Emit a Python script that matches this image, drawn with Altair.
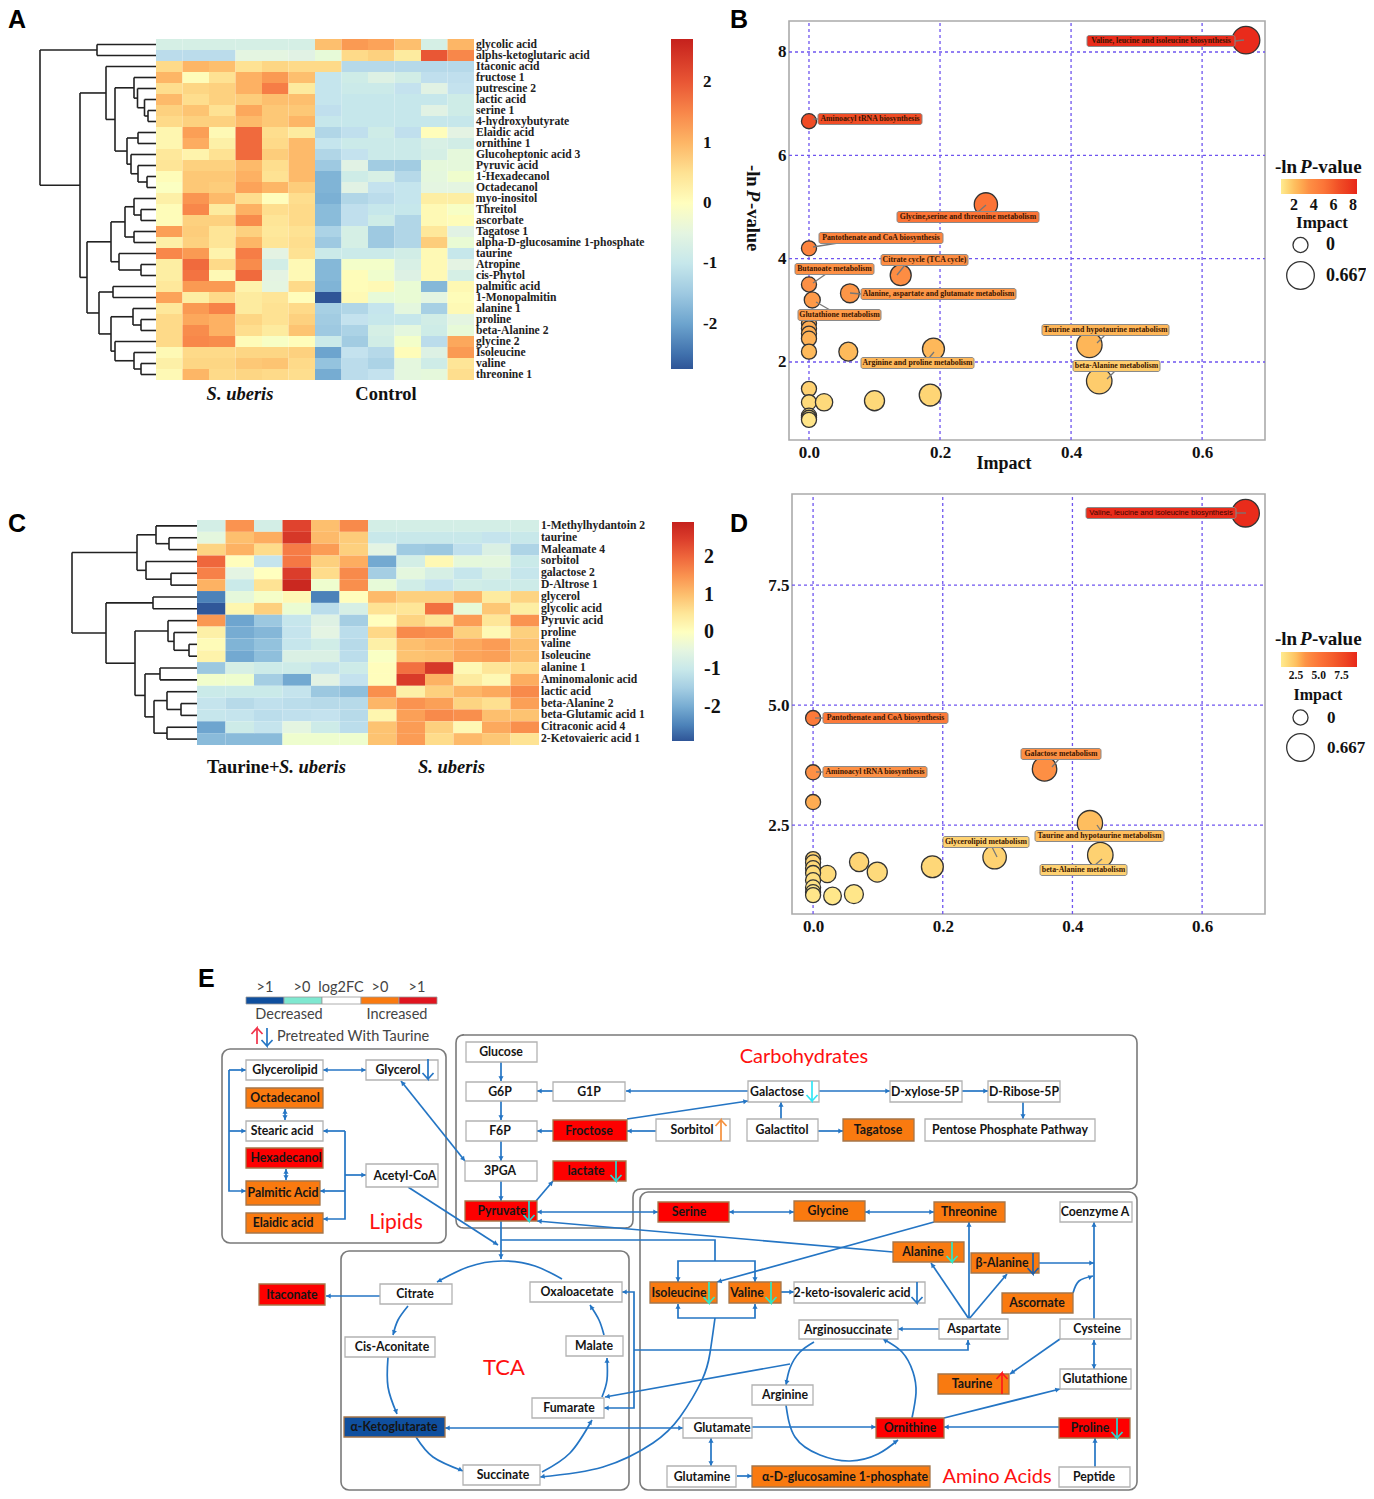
import math
import altair as alt
import pandas as pd

# ---------- Panel A heat map ----------
A_LABELS = ["glycolic acid","alphs-ketoglutaric acid","Itaconic acid","fructose 1","putrescine 2","lactic acid","serine 1","4-hydroxybutyrate","Elaidic acid","ornithine 1","Glucoheptonic acid 3","Pyruvic acid","1-Hexadecanol","Octadecanol","myo-inositol","Threitol","ascorbate","Tagatose 1","alpha-D-glucosamine 1-phosphate","taurine","Atropine","cis-Phytol","palmitic acid","1-Monopalmitin","alanine 1","proline","beta-Alanine 2","glycine 2","Isoleucine","valine","threonine 1"]
A_VALUES = [
[-.75,-.75,-.75,-.75,-.75,-.75,.9,1.3,1.2,.9,-.75,1],
[-1.2,-1.2,-1.2,-.5,-.5,-.6,-.35,.6,.7,.35,2,1.5],
[.6,1,.9,.5,.65,.6,.6,-1.25,-1.25,-1.25,-1.25,-1.25],
[1,.05,.5,1.05,1.3,.9,-1.05,-.85,-.65,-.8,-1.15,-1.15],
[.55,.65,.7,1.05,1.6,.35,-1.05,-.9,-.9,-1.1,-.6,-1.1],
[.95,.55,.7,.75,.9,.9,-1.05,-1,-1,-1,-1,-.85],
[.7,.85,.5,1.15,.8,.8,-1.15,-1,-1,-1,-.6,-.85],
[.6,.7,.7,.95,.8,1,-1,-1,-1,-1,-1,-1],
[.15,1.25,.1,1.8,.55,.35,-1.3,-1.15,-.85,-1.15,.03,-.55],
[.15,1.1,.25,1.8,.6,.95,-1.05,-.9,-.9,-.9,-.7,-.8],
[.4,.2,.5,1.8,.75,.95,-1.3,-1.1,-.9,-.9,-.75,-.4],
[.45,.7,.7,.95,.55,.95,-1.5,-.6,-1.45,-1.45,-.4,-.4],
[.05,.8,.8,1.05,.5,.95,-1.8,-.85,-.7,-1.25,-.45,-.2],
[-.05,.8,.75,1.2,1,.75,-1.8,-.6,-1.1,-1.05,-.5,-.5],
[.25,1.35,.95,.55,.02,.55,-1.85,-1.3,-1.2,-1.05,.3,.3],
[.05,1.5,.35,1.05,.55,.6,-1.7,-1.15,-1,-1,.1,-.1],
[.05,.7,.7,1.45,.45,.6,-1.7,-1.15,-.85,-1.3,.1,.05],
[1.25,.75,.45,.7,.4,.5,-1.35,-.75,-1.5,-1.3,.4,-.6],
[.25,.7,.45,1,.45,.55,-1.5,-.75,-1.5,-1.3,.75,-.3],
[1.5,1.3,.2,1.6,-.55,.5,-.9,-.9,-.9,-.8,.1,-1],
[.3,1.8,.6,1.45,-.8,.1,-1.75,-.15,-.15,-.7,.1,-.55],
[.3,1.7,.1,1.8,-.55,.1,-1.75,.05,-.2,-.65,.1,-.75],
[.4,1.3,1.3,.2,-.5,.6,-1.8,.05,.1,-.3,-1.75,.12],
[1.2,.3,.6,.35,.45,.03,-2.75,.1,-.35,-.3,-.5,.05],
[.4,1.3,1.55,.35,.5,.6,-1.4,-1.3,-1.05,-.45,-1.4,.1],
[.6,1.15,1.05,.65,.5,.7,-1.45,-1.1,-1,-1,-.8,-.5],
[.6,1.45,1.05,.55,.35,.85,-1.5,-1.35,-.75,-.45,-.85,-.35],
[.6,1.5,1.45,.06,-.1,.03,-.9,-1.45,-.8,-.15,-1.2,1.15],
[.1,.6,.6,.65,.65,.7,-2,-1.1,-1.25,.05,-.65,1.3],
[.25,.65,.65,.8,.85,.6,-1.6,-1.2,-1.35,-.45,-.85,.45],
[.1,1,.6,.65,.6,.55,-1.9,-1.2,-1.1,-.45,-.4,.55]]
A_TREE = (40,(97,0,1),(80,
  (106,2,(115,(134,3,(137.5,4,(144.5,5,(148,6,7)))),(127,(138,8,9),(131,10,(138,11,(147,12,13)))))),
  (87,(111,(125,(134,14,(141,15,16)),(134,17,18)),(119,19,(141,20,21))),
      (99,(113,22,23),(111,(133,24,(141,25,26)),(115,27,(134,28,(141,29,30))))))))

# ---------- Panel C heat map ----------
C_LABELS = ["1-Methylhydantoin 2","taurine","Maleamate 4","sorbitol","galactose 2","D-Altrose 1","glycerol","glycolic acid","Pyruvic acid","proline","valine","Isoleucine","alanine 1","Aminomalonic acid","lactic acid","beta-Alanine 2","beta-Glutamic acid 1","Citraconic acid 4","2-Ketovaieric acid 1"]
C_VALUES = [
[-.8,1.5,-.8,2.4,1,1.6,-.8,-.8,-.8,-.8,-.8,-.8],
[-.45,1,1.2,2.6,1.05,.85,-1,-1,-1,-1,-1.1,-1],
[.75,1.15,.65,1.75,1.4,.8,-.55,-1.55,-1.6,-1.2,-.7,-1.4],
[2,.05,-1.1,1.8,.8,1.2,-2.05,-.8,.15,-.4,-.45,-.95],
[1.7,-.55,.02,2.5,.65,1.6,-1.5,-.45,-.75,-1.05,-.75,-1.05],
[1.15,-.95,.55,2.85,-.2,1.55,-.35,-.85,-1.1,-.85,-.9,-.9],
[-2.5,-.4,-.1,.15,-2.5,.05,1.05,.8,.8,1.1,.4,.75],
[-2.9,.2,.8,-.25,-1.25,-.75,.55,.5,1.9,-.35,.9,.35],
[1.45,-2.1,-1.6,-1.05,-.65,-1.5,.03,.75,.5,1.4,.5,1.5],
[.3,-2,-1.85,-1.1,-.55,-1.25,.7,1.6,1.55,.8,.15,.8],
[.1,-1.9,-1.7,-1.05,-.85,-1.3,.3,1,1.1,1.25,1.4,1],
[.25,-2.05,-1.75,-.7,-.7,-1.25,-.05,.95,1,1.3,1.35,1],
[-1.6,-.75,-.9,-.9,-1.1,-.9,.05,1.9,2.6,.15,.5,.65],
[-.15,-.2,-1.5,-2.05,-.6,-1.15,.05,2.55,1.15,.4,.15,1.2],
[-.95,-.95,-.95,-1.1,-1.6,-1.75,1.55,.3,.8,1.1,1.25,1.6],
[-1.1,-1.3,-1.2,-1.25,-1.3,-1.3,1.1,1.5,1.35,.75,.6,1.35],
[-1.05,-1.1,-1.25,-1.2,-1.15,-1.3,.2,1.35,1.6,1.55,1,.95],
[-2.1,-.9,-1.1,-.5,-.9,-1.25,.95,1.4,.8,.15,1.25,1.55],
[-1.8,-1.8,-1.8,-.2,-.2,-.2,.95,1.4,.65,1.05,.9,.55]]
C_TREE = (72,(137,(156,0,(169,1,2)),(146,3,(171,4,5))),
  (106,(153,6,7),(135,(168,8,(174,9,(189,10,11))),
     (145,(160,12,13),(154,(167,14,(181,15,16)),(167,17,18))))))

HEAT_STOPS = [-1,-.8,-.6,-.4,-.2,0,.2,.4,.6,.8,1]
HEAT_COLORS = ["#2f5597","#5a94c6","#8fbfdc","#c4e2ee","#e4f3e4","#ffffbf","#fee090","#fdae61","#f67a45","#e2452f","#c5211d"]

# ---------- Panel B bubbles: impact, -ln p, label ----------
B_IMPACT = [.667,0,.27,0,.14,0,.0625,.005,0,0,0,0,0,.06,.19,.428,.443,0,0,.023,.1,.185,0,0,0]
B_LNP = [8.23,6.66,5.05,4.2,3.68,3.5,3.33,3.2,2.75,2.65,2.55,2.45,2.2,2.2,2.25,2.33,1.63,1.48,1.22,1.22,1.25,1.36,.96,.92,.88]
D_IMPACT = [.667,0,0,0,.357,.427,.443,.28,.184,.099,.071,.022,.063,.03,0,0,0,0,0,0,0,0]
D_LNP = [9.0,4.73,3.6,2.98,3.67,2.54,1.875,1.83,1.63,1.52,1.73,1.48,1.06,1.02,1.79,1.72,1.6,1.5,1.35,1.2,1.1,1.04]

B_BADGES = [("Valine, leucine and isoleucine biosynthesis",1087,1235,41,8.23,1235,41,1244,40),
 ("Aminoacyl tRNA biosynthesis",818,922,119,6.66,818,119,813,119),
 ("Glycine,serine and threonine metabolism",897,1039,217,5.05,978,212,986,205),
 ("Pantothenate and CoA biosynthesis",819,943,238,4.2,838,243,813,247),
 ("Citrate cycle (TCA cycle)",881,968,260,3.68,905,265,897,275),
 ("Butanoate metabolism",795,874,269,3.5,826,274,813,283),
 ("Alanine, aspartate and glutamate metabolism",861,1016,294,3.33,861,294,850,293),
 ("Glutathione metabolism",798,881,315,3.2,830,310,816,302),
 ("Taurine and hypotaurine metabolism",1042,1169,330,2.33,1105,335,1097,343),
 ("Arginine and proline metabolism",861,974,363,2.25,929,358,934,352),
 ("beta-Alanine metabolism",1073,1160,366,1.63,1115,371,1107,379)]
D_BADGES = [("Pantothenate and CoA biosynthesis",823,948,718,4.73,823,718,815,718),
 ("Aminoacyl tRNA biosynthesis",823,927,772,3.6,823,772,816,772),
 ("Galactose metabolism",1021,1101,754,3.67,1059,759,1052,767),
 ("Glycerolipid metabolism",943,1029,842,1.83,992,847,997,857),
 ("Taurine and hypotaurine metabolism",1035,1164,836,2.54,1097,825,1101,831),
 ("beta-Alanine metabolism",1040,1127,870,1.875,1102,859,1095,865)]
D_TOP_BADGE = [("Valine, leucine and isoleucine biosynthesis",1086,1236,513,9.0,1236,513,1246,513)]

# ---------- Panel E: nodes: label, x0, x1, y0, y1, fill, text x ----------
ORANGE, RED, NAVY, WHITE = "#f97a10", "#fe0000", "#0f4f9e", "#ffffff"
E_NODES = [
("Glycerolipid",246,323,1060,1080,WHITE,285),("Glycerol",366,438,1060,1080,WHITE,398),
("Octadecanol",246,323,1088,1108,ORANGE,285),("Stearic acid",246,323,1121,1141,WHITE,282),
("Hexadecanol",246,323,1148,1168,RED,286),("Palmitic Acid",246,320,1181,1205,ORANGE,283),
("Elaidic acid",246,323,1213,1233,ORANGE,283),("Acetyl-CoA",366,438,1164,1187,WHITE,405),
("Glucose",466,537,1042,1062,WHITE,501),("G6P",466,537,1082,1101,WHITE,500),("G1P",553,625,1082,1101,WHITE,589),
("F6P",466,537,1121,1141,WHITE,500),("Froctose",553,627,1120,1141,RED,589),("3PGA",465,537,1161,1181,WHITE,500),
("lactate",553,626,1161,1181,RED,586),("Pyruvate",465,537,1201,1221,RED,502),
("Galactose",748,819,1081,1102,WHITE,777),("D-xylose-5P",890,962,1081,1102,WHITE,925),("D-Ribose-5P",988,1060,1081,1102,WHITE,1024),
("Sorbitol",656,730,1119,1141,WHITE,692),("Galactitol",747,818,1119,1141,WHITE,782),("Tagatose",843,914,1119,1141,ORANGE,878),
("Pentose Phosphate Pathway",925,1095,1119,1141,WHITE,1010),
("Serine",658,729,1202,1222,RED,689),("Glycine",794,865,1201,1221,ORANGE,828),("Threonine",934,1005,1202,1222,ORANGE,969),
("Coenzyme A",1060,1132,1202,1222,WHITE,1095),("Alanine",893,964,1242,1262,ORANGE,923),("β-Alanine",971,1039,1253,1273,ORANGE,1002),
("Isoleucine",650,717,1282,1303,ORANGE,679),("Valine",729,781,1282,1303,ORANGE,747),("2-keto-isovaleric acid",794,925,1282,1303,WHITE,852),
("Ascornate",1002,1073,1293,1313,ORANGE,1037),("Itaconate",259,325,1284,1305,RED,292),("Citrate",380,452,1284,1304,WHITE,415),
("Oxaloacetate",530,622,1282,1302,WHITE,577),("Cis-Aconitate",345,435,1337,1357,WHITE,392),("Malate",566,623,1336,1356,WHITE,594),
("Fumarate",532,604,1398,1418,WHITE,569),("α-Ketoglutarate",344,445,1417,1437,NAVY,394),("Succinate",463,540,1465,1485,WHITE,503),
("Arginosuccinate",799,898,1320,1339,WHITE,848),("Aspartate",939,1008,1319,1339,WHITE,974),("Cysteine",1060,1131,1319,1339,WHITE,1097),
("Taurine",938,1009,1374,1394,ORANGE,972),("Glutathione",1060,1131,1369,1389,WHITE,1095),("Arginine",752,813,1385,1405,WHITE,785),
("Glutamate",683,752,1418,1438,WHITE,722),("Ornithine",876,944,1418,1438,RED,910),("Proline",1059,1130,1418,1438,RED,1090),
("Glutamine",667,736,1466,1487,WHITE,702),("α-D-glucosamine 1-phosphate",752,930,1466,1487,ORANGE,845),("Peptide",1059,1130,1467,1487,WHITE,1094)]

# straight connections: points, arrow ends ("e" end, "s" start, "b" both, "" none)
E_LINES = [
([(323,1070),(366,1070)],"b"),([(229,1070),(246,1070)],"e"),([(229,1070),(229,1191),(246,1191)],"e"),([(229,1131),(246,1131)],"e"),
([(285,1109),(285,1120)],"b"),([(286,1169),(286,1180)],"b"),([(345,1131),(323,1131)],"e"),([(345,1131),(345,1219),(323,1219)],"e"),
([(345,1191),(320,1191)],"e"),([(345,1175),(366,1175)],"e"),([(401,1081),(465,1161)],"b"),([(408,1187),(498,1245)],"e"),
([(501,1062),(501,1081)],"e"),([(501,1101),(501,1120)],"e"),([(501,1141),(501,1161)],"e"),([(501,1181),(501,1201)],"e"),([(501,1221),(501,1259)],"e"),
([(553,1091),(537,1091)],"e"),([(748,1091),(626,1091)],"e"),([(553,1131),(537,1131)],"e"),([(656,1131),(627,1131)],"e"),([(627,1119),(748,1101)],"e"),
([(819,1091),(890,1091)],"e"),([(962,1091),(988,1091)],"e"),([(1023,1102),(1023,1119)],"e"),([(781,1119),(781,1102)],"e"),([(818,1131),(843,1131)],"e"),
([(536,1201),(553,1181)],"e"),([(537,1212),(658,1212)],"b"),([(729,1212),(794,1212)],"b"),([(865,1212),(934,1212)],"b"),
([(893,1252),(537,1221)],"e"),([(934,1222),(717,1282)],"e"),([(501,1240),(715,1240),(715,1261)],""),([(715,1261),(678,1261),(678,1282)],"e"),([(715,1261),(755,1261),(755,1282)],"e"),
([(715,1318),(678,1318),(678,1304)],"e"),([(715,1318),(755,1318),(755,1304)],"e"),([(781,1292),(794,1292)],"e"),
([(969,1319),(969,1222)],"e"),([(969,1319),(931,1263)],"e"),([(969,1319),(1007,1274)],"e"),([(939,1329),(898,1329)],"e"),
([(1039,1263),(1094,1263)],"e"),([(1094,1319),(1094,1222)],"e"),([(1060,1339),(1010,1374)],"e"),([(1094,1340),(1094,1369)],"b"),
([(634,1350),(968,1350),(968,1340)],"e"),([(634,1350),(634,1292),(622,1292)],"e"),([(634,1350),(634,1408),(604,1408)],"e"),
([(790,1364),(605,1397)],"e"),([(445,1428),(683,1428)],"b"),([(752,1427),(876,1427)],"e"),([(1059,1427),(944,1427)],"e"),
([(944,1418),(1060,1389)],"e"),([(711,1438),(711,1466)],"b"),([(737,1476),(752,1476)],"e"),([(1095,1467),(1095,1438)],"e"),([(380,1296),(326,1296)],"e")]
E_CURVES = [
[(715,1318),(710,1353),(702,1380),(680,1417),(653,1443),(603,1467),(540,1477)],
[(1073,1293),(1079,1281),(1093,1276)],
[(814,1342),(800,1352),(790,1368),(786,1385)],
[(786,1405),(795,1437),(820,1455),(850,1461),(878,1454),(898,1440)],
[(912,1418),(916,1393),(913,1372),(902,1352),(883,1339)],
[(562,1279),(535,1266),(502,1261),(468,1267),(437,1282)],
[(408,1306),(398,1320),(393,1335)],
[(388,1357),(388,1387),(397,1414)],
[(416,1437),(433,1457),(463,1471)],
[(542,1472),(570,1453),(592,1420)],
[(602,1397),(607,1380),(607,1358)],
[(604,1335),(599,1320),(590,1305)]]
# pretreatment arrows inside boxes: x, start y, end y, colour
E_MINI = [(428,1059,1079,"#2475c4"),(616,1161,1181,"#27d8d0"),(529,1201,1221,"#27d8d0"),(812,1081,1101,"#33e6f5"),(721,1141,1120,"#f5903c"),
 (952,1242,1262,"#2ce8c8"),(1033,1253,1274,"#2060a8"),(709,1282,1303,"#2ce8c8"),(771,1282,1303,"#2ce8c8"),(917,1282,1303,"#2475c4"),
 (1002,1394,1373,"#fe1a1a"),(1117,1418,1438,"#27d8d0"),(257,1044,1028,"#f0334a"),(267,1028,1046,"#2475c4")]
E_BAR = [(246,284,NAVY),(284,322,"#7fe8d0"),(322,361,"#ffffff"),(361,399,ORANGE),(399,437,"#e0151f")]
E_BAR_TEXT = [(">1",265,988),(">0",302,988),("log2FC",341,988),(">0",380,988),(">1",417,988),("Decreased",289,1015),("Increased",397,1015)]
E_BOXES = [(222,446,1049,1243),(640,1137,1192,1490),(341,629,1251,1490)]
E_CARB = [(456,1035),(1137,1035),(1137,1189),(633,1189),(633,1228),(456,1228)]
E_TITLES = [("Lipids",396,1223,21),("Carbohydrates",804,1057,20),("TCA",504,1368,22),("Amino Acids",997,1477,20)]
PANELS = [("A",8,20),("B",730,20),("C",8,524),("D",730,524),("E",198,979)]

# ---------- canvas ----------
W, H = 1358, 1483
BLUE = "#2475c4"
SERIF = "Liberation Serif"
CX = alt.Scale(domain=[8, 8 + W], range=[0, W], nice=False, zero=False)
CY = alt.Scale(domain=[8, 8 + H], range=[0, H], nice=False, zero=False)
def px(f): return alt.X(f + ":Q", scale=CX, axis=None)
def py(f): return alt.Y(f + ":Q", scale=CY, axis=None)
def df(rows, cols): return pd.DataFrame(rows, columns=cols)
layers = []

def texts(rows, size, font=SERIF, weight="bold", style="normal", color="#111", align="center", angle=0):
    ch = alt.Chart(df(rows, ["t", "x", "y"])).mark_text(font=font, fontSize=size, fontWeight=weight, fontStyle=style,
        color=color, align=align, baseline="middle", angle=angle)
    return ch.encode(x=px("x"), y=py("y"), text="t:N")

def tree_segments(node, xleaf, rowy):
    if isinstance(node, int):
        return xleaf, rowy(node), []
    x, a, b = node
    xa, ya, sa = tree_segments(a, xleaf, rowy)
    xb, yb, sb = tree_segments(b, xleaf, rowy)
    segs = sa + sb + [(x, ya, xa, ya), (x, yb, xb, yb), (x, ya, x, yb)]
    return x, (ya + yb) / 2, segs

def heat_panel(values, labels, tree, x0, x1, y0, y1, label_x, vmin, vmax, ticks, legend_x, legend_y, legend_len, lab_size):
    n = len(labels)
    rows = [(c, c + 1, r, r + 1, values[r][c]) for r in range(n) for c in range(12)]
    xs = alt.Scale(domain=[0, 12], range=[x0 - 8, x1 - 8], nice=False, zero=False)
    ys = alt.Scale(domain=[0, n], range=[y0 - 8, y1 - 8], nice=False, zero=False)
    mid = (vmin + vmax) / 2
    half = (vmax - vmin) / 2
    cs = alt.Scale(domain=[mid + s * half for s in HEAT_STOPS], range=HEAT_COLORS)
    leg = alt.Legend(orient="none", legendX=legend_x - 8, legendY=legend_y - 8, title=None, values=ticks, direction="vertical",
                     gradientLength=legend_len, gradientThickness=22, gradientStrokeWidth=0, labelFont=SERIF, labelFontWeight="bold",
                     labelFontSize=lab_size, labelColor="#111", labelOffset=10, labelExpr="datum.value")
    out = [alt.Chart(df(rows, ["c", "c2", "r", "r2", "v"])).mark_rect(strokeWidth=0).encode(
        x=alt.X("c:Q", scale=xs, axis=None), x2="c2:Q", y=alt.Y("r:Q", scale=ys, axis=None), y2="r2:Q",
        color=alt.Color("v:Q", scale=cs, legend=leg))]
    lab = [(labels[i], i + .5) for i in range(n)]
    out.append(alt.Chart(df([(a, label_x, b) for a, b in lab], ["t", "x", "r"])).mark_text(font=SERIF, fontSize=11.6, fontWeight="bold",
        color="#222", align="left", baseline="middle").encode(x=px("x"), y=alt.Y("r:Q", scale=ys, axis=None), text="t:N"))
    h = (y1 - y0) / n
    _, _, segs = tree_segments(tree, x0, lambda i: y0 + (i + .5) * h)
    out.append(alt.Chart(df(segs, ["x", "y", "x2", "y2"])).mark_rule(color="#222", strokeWidth=1.6).encode(
        x=px("x"), y=py("y"), x2="x2:Q", y2="y2:Q"))
    return out

layers += heat_panel(A_VALUES, A_LABELS, A_TREE, 156, 474, 39, 380, 476, -2.75, 2.72, [-2, -1, 0, 1, 2], 671, 39, 330, 17)
layers += heat_panel(C_VALUES, C_LABELS, C_TREE, 197, 539, 520, 745, 541, -2.92, 2.95, [-2, -1, 0, 1, 2], 672, 522, 219, 20)

layers.append(texts([("S. uberis", 240, 394)], 18.5, style="italic"))
layers.append(texts([("Control", 386, 394)], 18.5))
layers.append(texts([("Taurine+", 207, 767)], 18.5, align="left"))
layers.append(texts([("S. uberis", 279, 767), ("S. uberis", 418, 767)], 18.5, style="italic", align="left"))

def bubble_panel(impact, lnp, frame, xdom, ydom, xt, yt, stops, colors, legx, legy, vals, fmt, labsize, size_y, size_font, size_off, badges, sans_badges, ylab_fmt):
    fx0, fx1, fy0, fy1 = frame
    xs = alt.Scale(domain=xdom, range=[fx0 - 8, fx1 - 8], nice=False, zero=False)
    ys = alt.Scale(domain=ydom, range=[fy1 - 8, fy0 - 8], nice=False, zero=False)
    cs = alt.Scale(domain=stops, range=colors)
    out = []
    out.append(alt.Chart(df([(fx0, fx1, fy0, fy1)], ["a", "b", "c", "d"])).mark_rect(filled=False, stroke="#ababab", strokeWidth=1.6).encode(
        x=px("a"), x2="b:Q", y=py("c"), y2="d:Q"))
    grid = dict(color="#6f55ef", strokeWidth=1.3, strokeDash=[3, 3])
    out.append(alt.Chart(df([(v, ydom[0], ydom[1]) for v in xt], ["v", "a", "b"])).mark_rule(**grid).encode(
        x=alt.X("v:Q", scale=xs, axis=alt.Axis(orient="bottom", values=xt, format=".1f", offset=-(H - (fy1 - 8)), domain=False, ticks=False, grid=False,
            labels=True, title=None, labelFont=SERIF, labelFontWeight="bold", labelFontSize=17, labelColor="#111", labelPadding=4)),
        y=alt.Y("a:Q", scale=ys, axis=None), y2="b:Q"))
    out.append(alt.Chart(df([(v, xdom[0], xdom[1]) for v in yt], ["v", "a", "b"])).mark_rule(**grid).encode(
        y=alt.Y("v:Q", scale=ys, axis=alt.Axis(orient="left", values=yt, format=ylab_fmt, offset=-(fx0 - 8), domain=False, ticks=False, grid=False,
            title=None, labelFont=SERIF, labelFontWeight="bold", labelFontSize=17, labelColor="#111", labelPadding=3)),
        x=alt.X("a:Q", scale=xs, axis=None), x2="b:Q"))
    cleg = alt.Legend(orient="none", legendX=legx - 8, legendY=legy - 8, title=None, direction="horizontal", values=vals, format=fmt,
                      gradientLength=76, gradientThickness=15, gradientStrokeWidth=0, labelFont=SERIF, labelFontWeight="bold", labelFontSize=labsize,
                      labelColor="#111", labelOffset=3)
    sleg = alt.Legend(orient="none", legendX=1286 - 8, legendY=size_y - 8, title=None, values=[0, .667], format=".3~f", symbolType="circle",
                      symbolFillColor="white", symbolStrokeColor="#333", symbolStrokeWidth=1.3, labelFont=SERIF, labelFontWeight="bold",
                      labelFontSize=size_font, labelColor="#111", labelOffset=size_off, rowPadding=3, direction="vertical")
    out.append(alt.Chart(df(list(zip(impact, lnp)), ["i", "p"])).mark_circle(stroke="#333", strokeWidth=1.3, opacity=1).encode(
        x=alt.X("i:Q", scale=xs, axis=None), y=alt.Y("p:Q", scale=ys, axis=None),
        color=alt.Color("p:Q", scale=cs, legend=cleg),
        size=alt.Size("i:Q", scale=alt.Scale(type="pow", exponent=.59, domain=[0, .667], range=[227, 764]), legend=sleg)))
    allb = badges + sans_badges
    cols = ["t", "x0", "x1", "y", "v", "a", "b", "c", "d"]
    out.append(alt.Chart(df(allb, cols)).mark_rule(color="#777", strokeWidth=1.3).encode(x=px("a"), y=py("b"), x2="c:Q", y2="d:Q"))
    bd = df(allb, cols)
    bd["y0"] = bd["y"] - 5.5
    bd["y1"] = bd["y"] + 5.5
    out.append(alt.Chart(bd).mark_rect(stroke="#8a8a8a", strokeWidth=1, cornerRadius=2).encode(
        x=px("x0"), x2="x1:Q", y=py("y0"), y2="y1:Q", color=alt.Color("v:Q", scale=cs, legend=None)))
    if badges:
        out.append(texts([(b[0], (b[1] + b[2]) / 2, b[3]) for b in badges], 7.8, color="#3a1500"))
    if sans_badges:
        out.append(texts([(b[0], (b[1] + b[2]) / 2, b[3]) for b in sans_badges], 7.6, font="Liberation Sans", weight="normal", color="#3a0500"))
    return out

BUB_COL_B = ["#ffeb90", "#fec060", "#fd9045", "#fc7538", "#f04c25", "#e8261a"]
layers += bubble_panel(B_IMPACT, B_LNP, (789, 1265, 21, 440), [-.0305, .696], [.49, 8.6], [0, .2, .4, .6], [2, 4, 6, 8],
                       [.67, 2, 3.5, 5, 6.66, 8.4], BUB_COL_B, 1281, 179, [2, 4, 6, 8], "d", 16, 236, 18, 11, B_BADGES, [], "d")
layers += bubble_panel(D_IMPACT, D_LNP, (792, 1265, 494, 914), [-.0325, .697], [.646, 9.4], [0, .2, .4, .6], [2.5, 5, 7.5],
                       [.85, 2.5, 3.6, 5, 7.5, 9.2], BUB_COL_B, 1281, 652, [2.5, 5, 7.5], ".1f", 11.5, 709, 17, 12, D_BADGES, D_TOP_BADGE, ".1f")

# mixed-style titles
layers.append(texts([("Impact", 1004, 464)], 18))
layers.append(texts([("Impact", 1322, 223)], 17))
layers.append(texts([("Impact", 1318, 695)], 16))
layers.append(texts([("-ln ", 1275, 167), ("-value", 1312, 167), ("-ln ", 1275, 639), ("-value", 1312, 639)], 19, align="left"))
layers.append(texts([("P", 1300, 167), ("P", 1300, 639)], 19, style="italic", align="left"))
layers.append(texts([("-ln", 753, 165), ("-value", 753, 203)], 18.5, align="left", angle=90))
layers.append(texts([("P", 753, 190)], 18.5, style="italic", align="left", angle=90))
layers.append(texts(PANELS, 25, font="Liberation Sans", color="#000", align="left"))

# ---------- panel E ----------
layers.append(alt.Chart(df(E_BOXES, ["a", "b", "c", "d"])).mark_rect(filled=False, stroke="#7a7a7a", strokeWidth=1.6, cornerRadius=8).encode(
    x=px("a"), x2="b:Q", y=py("c"), y2="d:Q"))

def rounded(pts, r=8):
    out = []
    n = len(pts)
    for i in range(n + 1):
        p, a, b = pts[i % n], pts[(i - 1) % n], pts[(i + 1) % n]
        da = math.dist(p, a)
        db = math.dist(p, b)
        for t in (0, .25, .5, .75, 1):
            s = (p[0] + (a[0] - p[0]) * r / da, p[1] + (a[1] - p[1]) * r / da)
            e = (p[0] + (b[0] - p[0]) * r / db, p[1] + (b[1] - p[1]) * r / db)
            out.append(((1 - t) ** 2 * s[0] + 2 * t * (1 - t) * p[0] + t * t * e[0], (1 - t) ** 2 * s[1] + 2 * t * (1 - t) * p[1] + t * t * e[1]))
    return out

carb = [(x, y, i) for i, (x, y) in enumerate(rounded(E_CARB))]
layers.append(alt.Chart(df(carb, ["x", "y", "i"])).mark_line(color="#7a7a7a", strokeWidth=1.6).encode(x=px("x"), y=py("y"), order="i:Q"))

bar = [(a, b, 997, 1004, c) for a, b, c in E_BAR]
layers.append(alt.Chart(df(bar, ["a", "b", "c", "d", "f"])).mark_rect(stroke="#999", strokeWidth=.8).encode(
    x=px("a"), x2="b:Q", y=py("c"), y2="d:Q", color=alt.Color("f:N", scale=None)))
layers.append(texts(E_BAR_TEXT, 14.5, font="Lato", weight="normal", color="#444"))
layers.append(texts([("Pretreated With  Taurine", 277, 1037)], 14.5, font="Lato", weight="normal", color="#444", align="left"))

def polyrows(lines):
    rows = []
    for k, pts in enumerate(lines):
        rows += [(k, i, x, y) for i, (x, y) in enumerate(pts)]
    return df(rows, ["k", "i", "x", "y"])

straight = [p for p, _ in E_LINES]
layers.append(alt.Chart(polyrows(straight)).mark_line(color=BLUE, strokeWidth=1.7).encode(x=px("x"), y=py("y"), detail="k:N", order="i:Q"))
layers.append(alt.Chart(polyrows(E_CURVES)).mark_line(color=BLUE, strokeWidth=1.7, interpolate="natural").encode(x=px("x"), y=py("y"), detail="k:N", order="i:Q"))

heads = []
def add_head(a, b):
    ang = math.degrees(math.atan2(b[0] - a[0], -(b[1] - a[1]))) % 360
    d = math.dist(a, b) or 1
    heads.append((b[0] - (b[0] - a[0]) * 2.5 / d, b[1] - (b[1] - a[1]) * 2.5 / d, ang))
for pts, mode in E_LINES:
    if mode in ("e", "b"):
        add_head(pts[-2], pts[-1])
    if mode in ("s", "b"):
        add_head(pts[1], pts[0])
for pts in E_CURVES:
    add_head(pts[-2], pts[-1])

rects = df([n[:6] for n in E_NODES], ["t", "x0", "x1", "y0", "y1", "f"])
rects["s"] = ["#b3b3b3" if f == WHITE else "#a5764a" for f in rects["f"]]
layers.append(alt.Chart(rects).mark_rect(strokeWidth=1.3).encode(x=px("x0"), x2="x1:Q", y=py("y0"), y2="y1:Q",
    color=alt.Color("f:N", scale=None), stroke=alt.Stroke("s:N", scale=None)))
layers.append(alt.Chart(df(heads, ["x", "y", "a"])).mark_point(shape="triangle-up", filled=True, size=26, color=BLUE, opacity=1).encode(
    x=px("x"), y=py("y"), angle=alt.Angle("a:Q", scale=None)))
node_text = [(n[0], n[6], (n[3] + n[4]) / 2) for n in E_NODES]
layers.append(texts(node_text, 12.3, font="Lato", color="#151515"))
for t, x, y, s in E_TITLES:
    layers.append(texts([(t, x, y)], s, font="Lato", weight="normal", color="#fe1010"))

mini = []
for k, (x, y0, y1, c) in enumerate(E_MINI):
    sgn = 1 if y1 > y0 else -1
    for i, (a, b) in enumerate([(x, y0), (x, y1), (x - 5.5, y1 - sgn * 6)]):
        mini.append((2 * k, i, a, b, c))
    for i, (a, b) in enumerate([(x, y1), (x + 5.5, y1 - sgn * 6)]):
        mini.append((2 * k + 1, i, a, b, c))
layers.append(alt.Chart(df(mini, ["k", "i", "x", "y", "c"])).mark_line(strokeWidth=1.7).encode(
    x=px("x"), y=py("y"), detail="k:N", order="i:Q", color=alt.Color("c:N", scale=None)))

chart = alt.layer(*layers).resolve_scale(x="independent", y="independent", color="independent", size="independent").properties(
    width=W, height=H, padding=0, autosize=alt.AutoSizeParams(type="none")).configure_view(strokeWidth=0)
chart.save("out.html", embed_options={"renderer": "svg", "actions": False})
